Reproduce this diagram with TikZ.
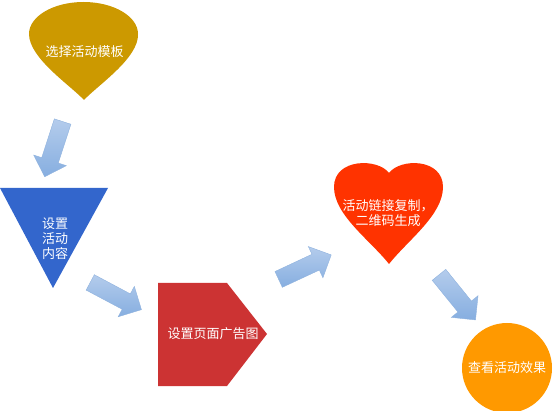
\documentclass[tikz,border=0pt]{standalone}
\usepackage{fontspec}
\newfontfamily\cjk{Noto Sans CJK SC}
\usetikzlibrary{shapes.arrows, positioning, calc}
\definecolor{dropgold}{HTML}{CC9900}
\definecolor{triblue}{HTML}{3366CC}
\definecolor{pentred}{HTML}{CC3333}
\definecolor{heartred}{HTML}{FF3300}
\definecolor{dotorange}{HTML}{FF9900}
\definecolor{arrlight}{HTML}{B4CCEC}
\definecolor{arrdark}{HTML}{86AEE0}
\definecolor{arredge}{HTML}{8FB2DE}

\tikzset{
  lbl/.style={text=white, font=\cjk\fontsize{13}{15}\selectfont, align=center, inner sep=0pt},
  bigarrow/.style={single arrow, minimum height=58pt, minimum width=34pt,
    single arrow head extend=8.5pt, single arrow tip angle=90,
    inner xsep=0pt, inner ysep=8.5pt,
    top color=arrlight, bottom color=arrdark, draw=arredge, line width=0.4pt}
}

\begin{document}
\begin{tikzpicture}[x=1pt, y=1pt]
  \useasboundingbox (0,0) rectangle (554,-411);

  % shapes
  \fill[dropgold] (84,-100) .. controls (70,-85) and (29,-58) .. (29,-34)
    arc[start angle=180, end angle=0, x radius=54.5, y radius=32]
    .. controls (139,-58) and (98,-85) .. (84,-100) -- cycle;
  \fill[triblue] (0,-188) -- (108,-188) -- (53,-288) -- cycle;
  \fill[pentred] (158,-283) -- (227,-283) -- (267,-334) -- (227,-386) -- (158,-386) -- cycle;
  \fill[heartred] (389,-173) .. controls (378,-158) and (334,-158) .. (334,-187)
    .. controls (334,-215) and (370,-240) .. (389,-264)
    .. controls (408,-240) and (443,-215) .. (443,-187)
    .. controls (443,-158) and (400,-158) .. (389,-173) -- cycle;
  \fill[dotorange] (507,-368) circle[radius=45];

  % labels
  \node[lbl] (tmpl) at (84.5,-52) {选择活动模板};
  \node[lbl] (content) at (55,-239) {设置\\活动\\内容};
  \node[lbl] (adpic) at (213,-334) {设置页面广告图};
  \node[lbl] (link) at (388,-213.5) {活动链接复制，\\二维码生成};
  \node[lbl] (result) at (507,-368) {查看活动效果};

  % arrows
  \node[bigarrow, rotate=-108] (arr1) at (55,-145) {};
  \node[bigarrow, rotate=-28] (arr2) at (112,-294) {};
  \node[bigarrow, rotate=25] (arr3) at (301,-269) {};
  \node[bigarrow, rotate=-51] (arr4) at (454.5,-294) {};
\end{tikzpicture}
\end{document}
